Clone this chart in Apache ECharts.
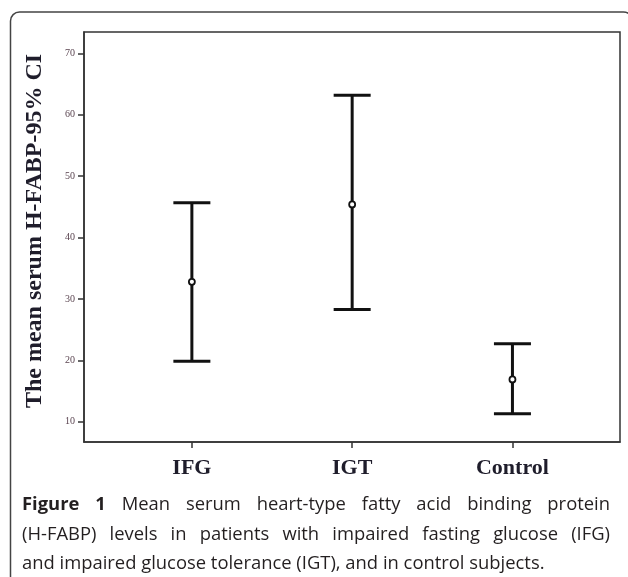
<!DOCTYPE html>
<html><head><meta charset="utf-8">
<script src="https://cdn.jsdelivr.net/npm/echarts@6/dist/echarts.min.js"></script>
<style>html,body{margin:0;padding:0;background:#fff}#c{width:628px;height:577px}</style>
</head><body><div id="c"></div>
<script>
// ---- data ----
const categories = ['IFG', 'IGT', 'Control'];
const meanValues = [32.8, 45.4, 16.9];
const lowerValues = [19.85, 28.3, 11.3];
const upperValues = [45.7, 63.2, 22.7];
const yTickValues = [10, 20, 30, 40, 50, 60, 70];
const categoryPositions = [1, 2, 3];
const yAxisTitle = 'The mean serum H-FABP-95% CI';
const captionLines = [
  'Figure 1 Mean serum heart-type fatty acid binding protein',
  '(H-FABP) levels in patients with impaired fasting glucose (IFG)',
  'and impaired glucose tolerance (IGT), and in control subjects.'
];

// ---- chart ----
const chart = echarts.init(document.getElementById('c'), null, { renderer: 'canvas' });
const data = categories.map((c, i) => [categoryPositions[i], meanValues[i], lowerValues[i], upperValues[i]]);

const capFontSize = 18.4;
const capFont = 'Open Sans';
const capLeft = 22, capRight = 610;
const capYs = [505, 535, 564];
const ctx = document.createElement('canvas').getContext('2d');
function measure(w, bold) {
  ctx.font = (bold ? 'bold ' : '') + capFontSize + 'px "' + capFont + '"';
  return ctx.measureText(w).width;
}
const captionGraphics = [];
captionLines.forEach((line, li) => {
  const words = line.split(' ');
  const isBold = (w, wi) => li === 0 && wi < 2;
  const widths = words.map((w, wi) => measure(w, isBold(w, wi)));
  const total = widths.reduce((a, b) => a + b, 0);
  const justify = li < captionLines.length - 1;
  const gap = justify ? (capRight - capLeft - total) / (words.length - 1) : measure(' ', false);
  let x = capLeft;
  words.forEach((w, wi) => {
    captionGraphics.push({
      type: 'text', x: x, y: capYs[li],
      style: { text: w, fill: '#231f20', font: (isBold(w, wi) ? 'bold ' : '') + capFontSize + 'px "' + capFont + '"',
        textVerticalAlign: 'middle', textAlign: 'left' }
    });
    x += widths[wi] + gap;
  });
});

chart.setOption({
  animation: false,
  backgroundColor: '#fff',
  grid: { left: 84, right: 8, top: 32, bottom: 135, show: true, borderColor: '#333', borderWidth: 1.5, containLabel: false },
  xAxis: {
    type: 'value', min: 0.327, max: 3.671,
    axisLine: { show: true, lineStyle: { color: '#333', width: 1.5 } },
    axisTick: { show: true, customValues: categoryPositions, length: 6, lineStyle: { color: '#333', width: 1.5 } },
    axisLabel: { customValues: categoryPositions, formatter: v => categories[Math.round(v) - 1], margin: 15,
      fontFamily: '"Liberation Serif", serif', fontWeight: 'bold', fontSize: 22, color: '#1f1d2b' },
    splitLine: { show: false }
  },
  yAxis: {
    type: 'value', min: 6.7, max: 73.5,
    axisLine: { show: true, lineStyle: { color: '#333', width: 1.5 } },
    axisTick: { show: true, customValues: yTickValues, length: 6, lineStyle: { color: '#333', width: 1.5 } },
    axisLabel: { customValues: yTickValues, margin: 9, fontFamily: '"Liberation Serif", serif', fontSize: 10, color: '#5a4450' },
    splitLine: { show: false }
  },
  graphic: [
    { type: 'rect', z: -1, shape: { x: 10.5, y: 12, width: 622, height: 620, r: 9 },
      style: { fill: 'none', stroke: '#444', lineWidth: 1.5 } },
    { type: 'text', x: 35, y: 231, rotation: Math.PI / 2,
      style: { text: yAxisTitle, fill: '#1f1d2b', font: 'bold 24px "Liberation Serif"', textAlign: 'center', textVerticalAlign: 'middle' } }
  ].concat(captionGraphics),
  series: [{
    type: 'custom',
    data: data,
    encode: { x: 0, y: [1, 2, 3] },
    renderItem: function (params, api) {
      const x = api.value(0);
      const m = api.coord([x, api.value(1)]);
      const lo = api.coord([x, api.value(2)]);
      const hi = api.coord([x, api.value(3)]);
      const hw = 18.5;
      const st = { stroke: '#111', lineWidth: 3 };
      return {
        type: 'group', children: [
          { type: 'line', shape: { x1: m[0], y1: hi[1], x2: m[0], y2: lo[1] }, style: st },
          { type: 'line', shape: { x1: m[0] - hw, y1: hi[1], x2: m[0] + hw, y2: hi[1] }, style: st },
          { type: 'line', shape: { x1: m[0] - hw, y1: lo[1], x2: m[0] + hw, y2: lo[1] }, style: st },
          { type: 'circle', shape: { cx: m[0], cy: m[1], r: 3 }, style: { fill: '#fff', stroke: '#111', lineWidth: 1.8 } }
        ]
      };
    }
  }]
});
</script>
</body></html>
